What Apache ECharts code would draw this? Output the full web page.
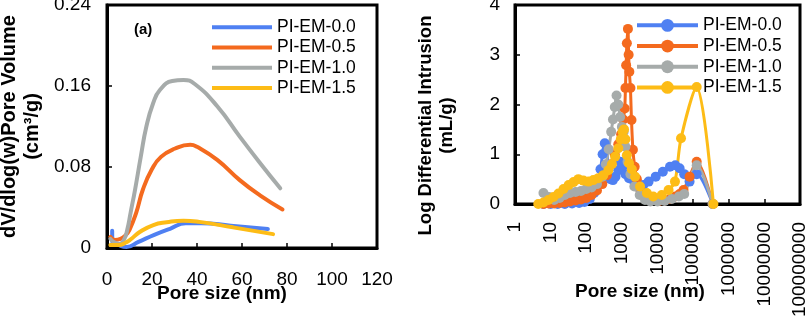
<!DOCTYPE html>
<html>
<head>
<meta charset="utf-8">
<script src="https://cdn.jsdelivr.net/npm/echarts@6/dist/echarts.min.js"></script>
<style>
html, body { margin: 0; padding: 0; background: #fff; }
#main { width: 810px; height: 320px; }
</style>
</head>
<body>
<div id="main"></div>
<script>
var names = ['PI-EM-0.0', 'PI-EM-0.5', 'PI-EM-1.0', 'PI-EM-1.5'];
var colors = ['#4f80f2', '#f46a1e', '#a6abaa', '#fdbc16'];

// left panel (a): dV/dlog(w) pore volume vs pore size (nm)
var bjh_x_00 = [2.3, 2.4, 5, 8.7, 14, 21, 28, 35, 42, 55, 71.5];
var bjh_y_00 = [0.017, 0.006, 0.003, 0.001, 0.006, 0.013, 0.019, 0.0244, 0.0245, 0.022, 0.0187];
var bjh_x_05 = [1.5, 3.5, 6, 8, 10, 13, 16, 20, 24, 30, 37, 40, 49, 59, 68, 78];
var bjh_y_05 = [0.011, 0.008, 0.009, 0.012, 0.018, 0.035, 0.058, 0.078, 0.09, 0.098, 0.102, 0.1, 0.087, 0.067, 0.052, 0.038];
var bjh_x_10 = [1.5, 3, 5.5, 7.5, 9, 10.5, 12.5, 15, 17.5, 20.5, 23.5, 29, 34, 39, 49, 59, 68, 77];
var bjh_y_10 = [0.009, 0.006, 0.004, 0.008, 0.018, 0.035, 0.058, 0.09, 0.12, 0.143, 0.156, 0.165, 0.166, 0.162, 0.14, 0.11, 0.084, 0.059];
var bjh_x_15 = [1.5, 5.5, 8, 10.2, 14.7, 20.6, 26.5, 34, 41, 56, 73.8];
var bjh_y_15 = [0.003, 0.003, 0.005, 0.008, 0.016, 0.0227, 0.0254, 0.027, 0.0258, 0.0204, 0.0137];

// right panel: log differential intrusion vs pore size (nm)
var mip_x_00 = [6.3, 10, 15.8, 25, 40, 63, 89, 126, 166, 209, 251, 288, 331, 372, 417, 479, 562, 661, 794, 912, 1047, 1259, 1585, 2089, 2818, 3981, 5623, 8913, 14125, 22387, 31623, 41687, 56234, 79433, 125893, 354813];
var mip_y_00 = [0, 0, 0, 0, 0.01, 0.02, 0.04, 0.1, 0.22, 0.42, 0.7, 1.0, 1.22, 1.1, 0.75, 0.5, 0.48, 0.55, 0.68, 0.85, 0.75, 0.6, 0.52, 0.48, 0.4, 0.38, 0.45, 0.55, 0.65, 0.75, 0.78, 0.72, 0.6, 0.45, 0.6, 0];
var mip_x_05 = [6.3, 8.9, 12.6, 17.8, 25, 35, 50, 71, 100, 141, 200, 282, 380, 501, 631, 794, 955, 1096, 1202, 1259, 1318, 1380, 1479, 1549, 1622, 1738, 1862, 2042, 2291, 2630, 3162, 3981, 5623, 7943, 11220, 15849, 22387, 31623, 41687, 53703, 79433, 125893, 354813];
var mip_y_05 = [0, 0.01, 0.01, 0.02, 0.03, 0.05, 0.07, 0.09, 0.12, 0.18, 0.27, 0.4, 0.58, 0.8, 1.0, 1.2, 1.4, 1.7, 1.92, 2.33, 2.79, 3.23, 3.52, 3.0, 2.66, 2.33, 1.69, 1.09, 0.75, 0.5, 0.32, 0.2, 0.12, 0.08, 0.06, 0.07, 0.1, 0.15, 0.2, 0.28, 0.55, 0.85, 0];
var mip_x_10 = [6.3, 8.9, 12.6, 17.8, 25, 35, 50, 71, 100, 141, 200, 282, 355, 427, 501, 562, 631, 708, 794, 891, 1000, 1122, 1259, 1445, 1738, 2239, 3162, 4467, 6310, 10000, 15849, 25119, 39811, 56234, 125893, 354813];
var mip_y_10 = [0.22, 0.14, 0.08, 0.12, 0.18, 0.22, 0.24, 0.26, 0.3, 0.33, 0.4, 0.55, 0.8, 1.1, 1.45, 1.7, 1.95, 2.18, 2.0, 1.75, 1.55, 1.45, 1.15, 0.85, 0.6, 0.35, 0.18, 0.08, 0.05, 0.05, 0.06, 0.1, 0.15, 0.2, 0.78, 0];
var mip_x_15 = [4.5, 6.3, 8.7, 12, 16.6, 23, 32, 44, 60, 83, 115, 158, 219, 302, 417, 525, 646, 794, 933, 1047, 1148, 1259, 1380, 1585, 1905, 2344, 3236, 5012, 7586, 13183, 20417, 30903, 45709, 125893, 371535];
var mip_y_15 = [0, 0.03, 0.08, 0.14, 0.21, 0.3, 0.38, 0.44, 0.5, 0.47, 0.45, 0.48, 0.52, 0.58, 0.68, 0.8, 0.95, 1.12, 1.3, 1.45, 1.5, 1.3, 0.98, 0.82, 0.7, 0.55, 0.35, 0.22, 0.15, 0.18, 0.28, 0.45, 1.32, 2.35, 0];

var decade_labels = ['1', '10', '100', '1000', '10000', '100000', '1000000', '10000000', '100000000'];

var bjh_x = [bjh_x_00, bjh_x_05, bjh_x_10, bjh_x_15];
var bjh_y = [bjh_y_00, bjh_y_05, bjh_y_10, bjh_y_15];
var mip_x = [mip_x_00, mip_x_05, mip_x_10, mip_x_15];
var mip_y = [mip_y_00, mip_y_05, mip_y_10, mip_y_15];

var font = "'Liberation Sans', Arial, sans-serif";

function pairs(xs, ys) {
	var out = [];
	for (var i = 0; i < xs.length; i++) {
		out.push([xs[i], ys[i]]);
	}
	return out;
}

// right legend names get a prefix so the two legends pick their own series
var mipNames = names.map(function(n) {
	return 'MIP ' + n;
});

var series = [];
for (var i = 0; i < names.length; i++) {
	series.push({
		name: names[i],
		type: 'line',
		xAxisIndex: 0,
		yAxisIndex: 0,
		symbol: 'none',
		smooth: 0.5,
		clip: false,
		lineStyle: { width: 4, color: colors[i], cap: 'round', join: 'round' },
		itemStyle: { color: colors[i] },
		data: pairs(bjh_x[i], bjh_y[i])
	});
}
for (var k = 0; k < names.length; k++) {
	series.push({
		name: mipNames[k],
		type: 'line',
		xAxisIndex: 1,
		yAxisIndex: 1,
		symbol: 'circle',
		symbolSize: 10,
		showAllSymbol: true,
		smooth: 0.3,
		clip: false,
		lineStyle: { width: 3, color: colors[k] },
		itemStyle: { color: colors[k] },
		data: pairs(mip_x[k], mip_y[k])
	});
}

var tickStyle = { inside: true, length: 5, lineStyle: { color: '#000', width: 1.5 } };
var lineStyle = { onZero: false, lineStyle: { color: '#000', width: 3 } };
var labelStyle = { fontSize: 19, color: '#000', fontFamily: font };

var option = {
	animation: false,
	backgroundColor: '#fff',
	title: {
		text: '(a)',
		left: 129,
		top: 17,
		textStyle: { fontSize: 15, fontWeight: 'bold', color: '#000', fontFamily: font }
	},
	legend: [{
		data: names,
		orient: 'vertical',
		left: 212,
		top: 17,
		padding: 0,
		icon: 'rect',
		itemWidth: 60,
		itemHeight: 4,
		itemGap: 0,
		textStyle: { fontSize: 17.5, lineHeight: 20.3, color: '#000', fontFamily: font }
	}, {
		data: mipNames,
		orient: 'vertical',
		left: 635,
		top: 15,
		padding: 0,
		itemWidth: 61,
		itemHeight: 16,
		itemGap: 0,
		lineStyle: { width: 4 },
		formatter: function(n) {
			return n.replace('MIP ', '');
		},
		textStyle: { fontSize: 17.5, lineHeight: 20.7, color: '#000', fontFamily: font }
	}],
	grid: [{
		left: 107, top: 5, width: 270, height: 243,
		outerBoundsMode: 'none',
		containLabel: false,
		show: true, borderColor: '#000', borderWidth: 3
	}, {
		left: 515, top: 5, width: 285, height: 199,
		outerBoundsMode: 'none',
		containLabel: false,
		show: true, borderColor: '#000', borderWidth: 3
	}],
	xAxis: [{
		gridIndex: 0,
		type: 'value',
		min: 0,
		max: 120,
		interval: 20,
		axisLine: lineStyle,
		axisTick: tickStyle,
		splitLine: { show: false },
		axisLabel: Object.assign({ margin: 22 }, labelStyle),
		name: 'Pore size (nm)',
		nameLocation: 'middle',
		nameMoveOverlap: false,
		nameGap: 36,
		nameTextStyle: { fontSize: 19, fontWeight: 'bold', color: '#000', fontFamily: font, padding: [0, 40, 0, 0] }
	}, {
		gridIndex: 1,
		type: 'log',
		logBase: 10,
		min: 1,
		max: 100000000,
		splitNumber: 8,
		axisLine: lineStyle,
		axisTick: tickStyle,
		splitLine: { show: false },
		axisLabel: Object.assign({
			margin: 18,
			rotate: 90,
			align: 'right',
			verticalAlign: 'middle',
			formatter: function(v) {
				return decade_labels[Math.round(Math.log(v) / Math.LN10)];
			}
		}, labelStyle),
		name: 'Pore size (nm)',
		nameLocation: 'middle',
		nameMoveOverlap: false,
		nameGap: 78,
		nameTextStyle: { fontSize: 19, fontWeight: 'bold', color: '#000', fontFamily: font, padding: [0, 35, 0, 0] }
	}],
	yAxis: [{
		gridIndex: 0,
		type: 'value',
		min: 0,
		max: 0.24,
		interval: 0.08,
		axisLine: lineStyle,
		axisTick: tickStyle,
		splitLine: { show: false },
		axisLabel: Object.assign({ margin: 16 }, labelStyle),
		name: 'dV/dlog(w)Pore Volume\n(cm³/g)',
		nameLocation: 'middle',
		nameMoveOverlap: false,
		nameGap: 63,
		nameTextStyle: { fontSize: 20, fontWeight: 'bold', lineHeight: 23, color: '#000', fontFamily: font }
	}, {
		gridIndex: 1,
		type: 'value',
		min: 0,
		max: 4,
		interval: 1,
		axisLine: lineStyle,
		axisTick: tickStyle,
		splitLine: { show: false },
		axisLabel: Object.assign({ margin: 15 }, labelStyle),
		name: 'Log Differential Intrusion\n(mL/g)',
		nameLocation: 'middle',
		nameMoveOverlap: false,
		nameGap: 58,
		nameTextStyle: { fontSize: 18.5, fontWeight: 'bold', lineHeight: 21, color: '#000', fontFamily: font, padding: [0, 42, 0, 0] }
	}],
	series: series
};

var myChart = echarts.init(document.getElementById('main'));
myChart.setOption(option);
</script>
</body>
</html>
